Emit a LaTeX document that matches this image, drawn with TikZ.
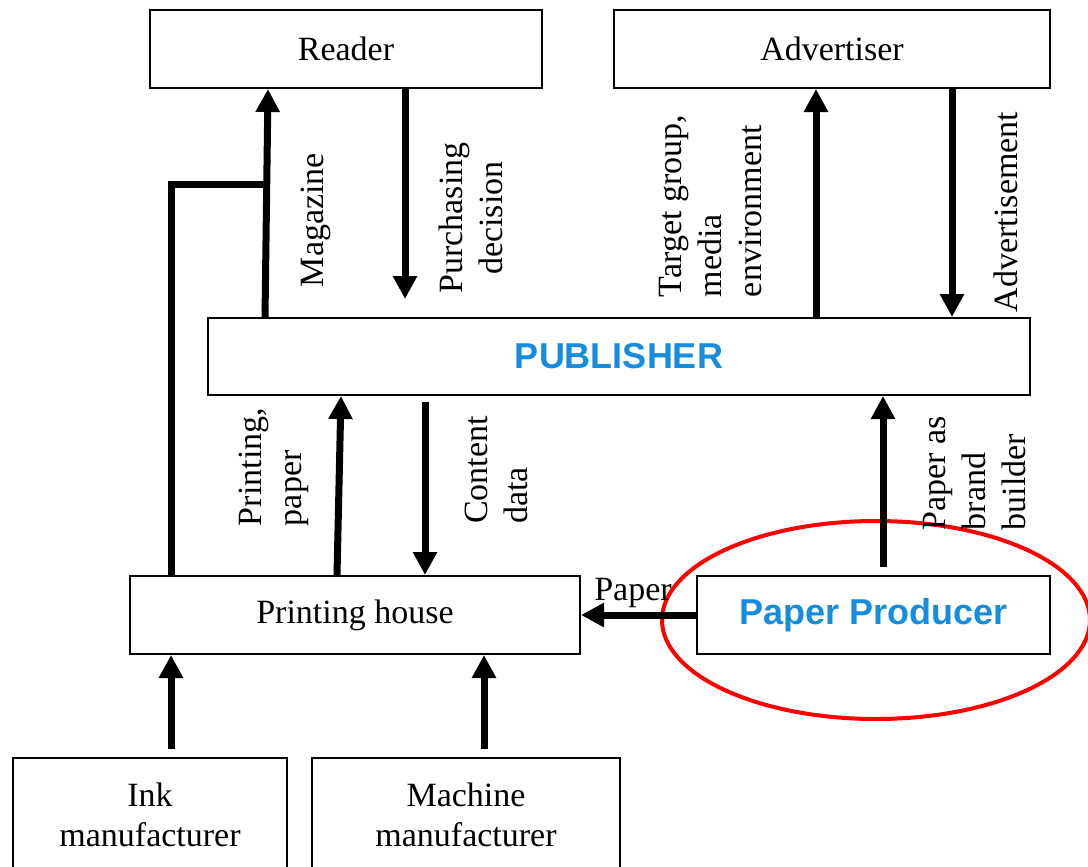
\documentclass[tikz,border=0pt]{standalone}
\usepackage{fontspec}
\setmainfont{Liberation Serif}
\setsansfont{Liberation Sans}
\usetikzlibrary{arrows.meta,calc}
\definecolor{pubblue}{RGB}{22,140,222}
\begin{document}
\begin{tikzpicture}[x=0.5pt, y=-0.5pt,
    box/.style={draw, line width=1pt, inner sep=0pt, align=center, font=\fontsize{17}{20}\selectfont},
    keybox/.style={box, text=pubblue, font=\fontsize{18}{22}\selectfont\sffamily\bfseries},
    flow/.style={line width=3.5pt, -{Triangle[length=11.5pt,width=11.5pt]}},
    tag/.style={rotate=90, inner sep=0pt, align=left, font=\fontsize{17}{20}\selectfont}]

    \useasboundingbox (0,0) rectangle (1088,867);

    \draw[red, line width=2pt] (876,620) ellipse [x radius=107pt, y radius=49.5pt];

    \node[box, minimum width=196pt, minimum height=39pt] (reader) at (346,49) {Reader};
    \node[box, minimum width=218pt, minimum height=39pt] (adv) at (832,49) {Advertiser};
    \node[keybox, minimum width=411pt, minimum height=38.5pt] (pub) at (619,356.5) {PUBLISHER};
    \node[box, minimum width=225pt, minimum height=39pt] (print) at (355,615) {Printing house};
    \node[keybox, minimum width=176.5pt, minimum height=39pt] (paper) at (873.5,615) {Paper Producer};
    \node[box, minimum width=137pt, minimum height=57pt] (ink) at (150,815) {Ink\\manufacturer};
    \node[box, minimum width=154pt, minimum height=57pt] (mach) at (466,815) {Machine\\manufacturer};

    % flows above the publisher
    \draw[flow] (265,0 |- pub.north) -- (268,0 |- reader.south);
    \coordinate (join) at (265.8,184);
    \draw[line width=3.5pt] (171,0 |- print.north) -- (171,184) -- (join);
    \draw[flow] (405,0 |- reader.south) -- ($(405,0 |- pub.north)+(0,-18)$);
    \draw[flow] (816,0 |- pub.north) -- (816,0 |- adv.south);
    \draw[flow] (952,0 |- adv.south) -- (952,0 |- pub.north);

    % flows below the publisher
    \draw[flow] (337,0 |- print.north) -- (341,0 |- pub.south);
    \draw[flow] ($(425,0 |- pub.south)+(0,6)$) -- (425,0 |- print.north);
    \draw[flow] ($(883,0 |- paper.north)+(0,-8)$) -- (883,0 |- pub.south);
    \draw[flow] (paper.west) -- (print.east);
    \draw[flow] ($(171,0 |- ink.north)+(0,-8)$) -- (171,0 |- print.south);
    \draw[flow] ($(484,0 |- mach.north)+(0,-8)$) -- (484,0 |- print.south);

    \node[tag] (magazine) at (316,220) {Magazine};
    \node[tag, align=center] (purchase) at (471,218) {Purchasing\\decision};
    \node[tag] (target) at (711,206) {Target group,\\media\\environment};
    \node[tag] (advert) at (1006,212) {Advertisement};
    \node[tag] (printpaper) at (274,467) {Printing,\\paper};
    \node[tag] (content) at (496,470) {Content\\data};
    \node[tag] (brand) at (975,473) {Paper as\\brand\\builder};
    \node[inner sep=0pt, font=\fontsize{17}{20}\selectfont] (paperlbl) at (633,593) {Paper};

\end{tikzpicture}
\end{document}
